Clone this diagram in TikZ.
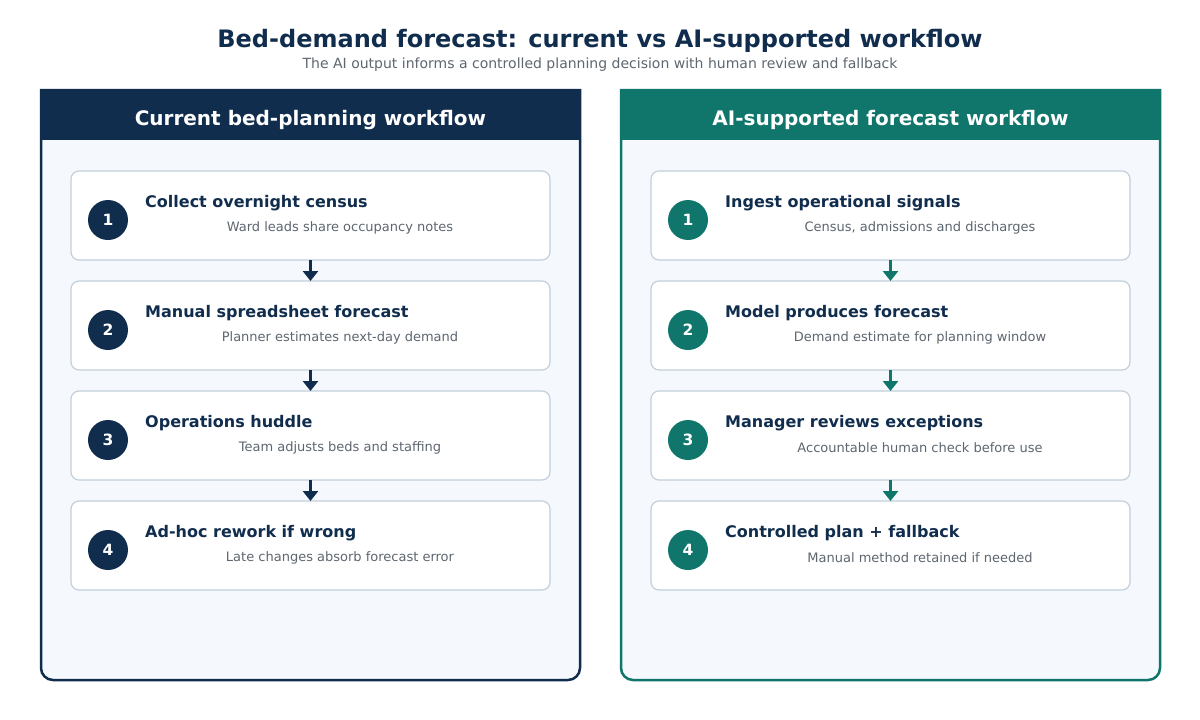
\documentclass[tikz,border=0pt]{standalone}
\usepackage{fontspec}
\setmainfont{DejaVu Sans}
\usetikzlibrary{positioning,arrows.meta}

\definecolor{navy}{HTML}{112D4E}
\definecolor{tealdark}{HTML}{10766C}
\definecolor{panelbg}{HTML}{F5F8FC}
\definecolor{boxline}{HTML}{C3CFDB}
\definecolor{subgray}{HTML}{5E6670}

\begin{document}
\begin{tikzpicture}[x=1pt,y=1pt,
    header/.style={minimum width=539pt,minimum height=50pt,inner sep=0pt,
      text height=25pt,text depth=5pt,
      text=white,font=\fontsize{20}{24}\selectfont\bfseries},
    stepbox/.style={draw=boxline,line width=1.2pt,fill=white,rounded corners=8pt,
      minimum width=479pt,minimum height=89pt,inner sep=0pt,outer sep=0pt},
    num/.style={circle,minimum size=40pt,inner sep=0pt,text=white,
      font=\fontsize{15.5}{18}\selectfont\bfseries},
    steptitle/.style={anchor=west,inner sep=0pt,text=navy,
      font=\fontsize{16}{19}\selectfont\bfseries},
    stepsub/.style={inner sep=0pt,text=subgray,font=\fontsize{13}{15}\selectfont},
    flow/.style={-{Triangle[length=10pt,width=15pt]},line width=2.7pt}]

\useasboundingbox (0,0) rectangle (1200,-720);
\fill[white] (0,0) rectangle (1200,-720);

% title
\node[text=navy,font=\fontsize{24}{28}\selectfont\bfseries] (title) at (600,-41)
  {Bed-demand forecast: current vs AI-supported workflow};
\node[text=subgray,inner sep=0pt,font=\fontsize{14}{16}\selectfont] (subtitle) at (600,-65)
  {The AI output informs a controlled planning decision with human review and fallback};

% panels
\draw[navy,line width=2.5pt,fill=panelbg] (41,-90) [rounded corners=12pt] -- (41,-680)
  -- (580,-680) [sharp corners] -- (580,-90) -- cycle;
\node[header,fill=navy] (hL) at (310.5,-115) {Current bed-planning workflow};

\draw[tealdark,line width=2.5pt,fill=panelbg] (621,-90) [rounded corners=12pt] -- (621,-680)
  -- (1160,-680) [sharp corners] -- (1160,-90) -- cycle;
\node[header,fill=tealdark] (hR) at (890.5,-115) {AI-supported forecast workflow};

% current workflow
\node[stepbox] (L1) at (310.5,-215.5) {};
\node[stepbox] (L2) [below=21pt of L1] {};
\node[stepbox] (L3) [below=21pt of L2] {};
\node[stepbox] (L4) [below=21pt of L3] {};

\node[num,fill=navy] (nL1) at ([xshift=37pt,yshift=-4.5pt]L1.west) {1};
\node[num,fill=navy] (nL2) at ([xshift=37pt,yshift=-4.5pt]L2.west) {2};
\node[num,fill=navy] (nL3) at ([xshift=37pt,yshift=-4.5pt]L3.west) {3};
\node[num,fill=navy] (nL4) at ([xshift=37pt,yshift=-4.5pt]L4.west) {4};

\node[steptitle] (tL1) at ([xshift=74pt,yshift=12.5pt]L1.west) {Collect overnight census};
\node[steptitle] (tL2) at ([xshift=74pt,yshift=12.5pt]L2.west) {Manual spreadsheet forecast};
\node[steptitle] (tL3) at ([xshift=74pt,yshift=12.5pt]L3.west) {Operations huddle};
\node[steptitle] (tL4) at ([xshift=74pt,yshift=12.5pt]L4.west) {Ad-hoc rework if wrong};

\node[stepsub] (sL1) at ([xshift=29.5pt,yshift=-12.5pt]L1.center) {Ward leads share occupancy notes};
\node[stepsub] (sL2) at ([xshift=29.5pt,yshift=-12.5pt]L2.center) {Planner estimates next-day demand};
\node[stepsub] (sL3) at ([xshift=29.5pt,yshift=-12.5pt]L3.center) {Team adjusts beds and staffing};
\node[stepsub] (sL4) at ([xshift=29.5pt,yshift=-12.5pt]L4.center) {Late changes absorb forecast error};

\path[flow,draw=navy,fill=navy]
(L1) edge (L2)
(L2) edge (L3)
(L3) edge (L4)
;

% AI-supported workflow
\node[stepbox] (R1) at (890.5,-215.5) {};
\node[stepbox] (R2) [below=21pt of R1] {};
\node[stepbox] (R3) [below=21pt of R2] {};
\node[stepbox] (R4) [below=21pt of R3] {};

\node[num,fill=tealdark] (nR1) at ([xshift=37pt,yshift=-4.5pt]R1.west) {1};
\node[num,fill=tealdark] (nR2) at ([xshift=37pt,yshift=-4.5pt]R2.west) {2};
\node[num,fill=tealdark] (nR3) at ([xshift=37pt,yshift=-4.5pt]R3.west) {3};
\node[num,fill=tealdark] (nR4) at ([xshift=37pt,yshift=-4.5pt]R4.west) {4};

\node[steptitle] (tR1) at ([xshift=74pt,yshift=12.5pt]R1.west) {Ingest operational signals};
\node[steptitle] (tR2) at ([xshift=74pt,yshift=12.5pt]R2.west) {Model produces forecast};
\node[steptitle] (tR3) at ([xshift=74pt,yshift=12.5pt]R3.west) {Manager reviews exceptions};
\node[steptitle] (tR4) at ([xshift=74pt,yshift=12.5pt]R4.west) {Controlled plan + fallback};

\node[stepsub] (sR1) at ([xshift=29.5pt,yshift=-12.5pt]R1.center) {Census, admissions and discharges};
\node[stepsub] (sR2) at ([xshift=29.5pt,yshift=-12.5pt]R2.center) {Demand estimate for planning window};
\node[stepsub] (sR3) at ([xshift=29.5pt,yshift=-12.5pt]R3.center) {Accountable human check before use};
\node[stepsub] (sR4) at ([xshift=29.5pt,yshift=-12.5pt]R4.center) {Manual method retained if needed};

\path[flow,draw=tealdark,fill=tealdark]
(R1) edge (R2)
(R2) edge (R3)
(R3) edge (R4)
;

\end{tikzpicture}
\end{document}
